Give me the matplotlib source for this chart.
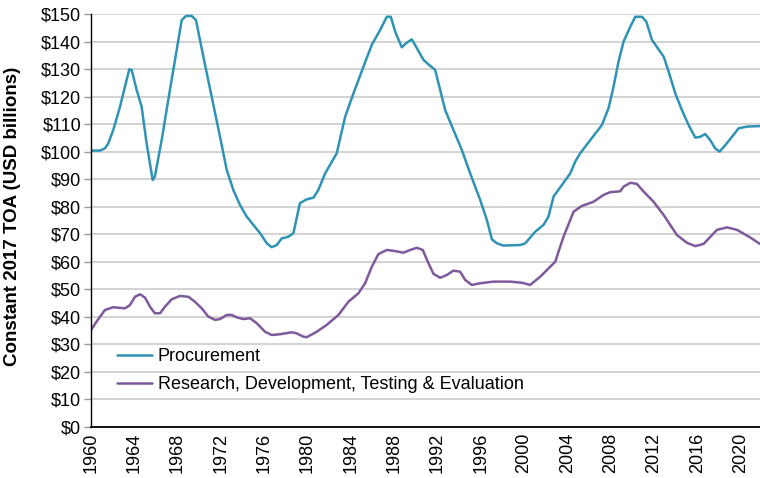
import matplotlib.pyplot as plt
from matplotlib.ticker import FuncFormatter

plt.rcParams['font.family'] = ['Liberation Sans', 'DejaVu Sans']

# Procurement, points (fiscal year, USD billions)
proc_years = [1960.0, 1960.83, 1961.29, 1961.6, 1962.06, 1962.68, 1963.14, 1963.54,
              1963.76, 1964.22, 1964.68, 1965.14, 1965.7, 1965.9, 1966.53, 1967.14,
              1967.76, 1968.38, 1968.78, 1969.3, 1969.7, 1970.38, 1971.15, 1971.92,
              1972.54, 1973.15, 1973.77, 1974.39, 1975.0, 1975.62, 1976.24, 1976.7,
              1977.16, 1977.62, 1978.24, 1978.7, 1979.3, 1979.93, 1980.55, 1981.0,
              1981.63, 1982.7, 1983.48, 1984.25, 1985.17, 1985.94, 1986.71, 1987.33,
              1987.7, 1988.1, 1988.71, 1989.18, 1989.64, 1990.1, 1990.72, 1991.17,
              1991.79, 1992.26, 1992.72, 1993.48, 1994.26, 1995.03, 1995.95, 1996.57,
              1997.03, 1997.5, 1998.1, 1999.65, 2000.11, 2001.03, 2001.8, 2002.26,
              2002.73, 2003.5, 2004.27, 2004.73, 2005.19, 2006.12, 2007.2, 2007.81,
              2008.27, 2008.73, 2009.2, 2009.82, 2010.28, 2010.9, 2011.3, 2011.82,
              2012.9, 2013.36, 2013.97, 2014.59, 2015.2, 2015.82, 2016.28, 2016.74,
              2017.2, 2017.66, 2018.07, 2018.6, 2019.21, 2019.83, 2020.6, 2021.8]
proc_values = [100.4, 100.4, 101.2, 103.0, 107.9, 116.3, 123.6, 129.9,
               129.7, 122.4, 116.3, 103.0, 89.7, 90.9, 104.2, 118.8,
               133.3, 147.8, 149.3, 149.3, 147.8, 134.5, 120.0, 105.4,
               93.4, 86.1, 80.6, 76.4, 73.4, 70.4, 66.7, 65.3,
               66.1, 68.5, 69.1, 70.4, 81.3, 82.7, 83.3, 86.1,
               92.1, 99.4, 112.7, 121.2, 130.9, 138.8, 144.2, 149.0,
               149.0, 143.6, 137.9, 139.6, 140.8, 137.6, 133.3, 131.7,
               129.7, 122.4, 115.1, 107.9, 100.6, 92.1, 82.5, 75.2,
               68.2, 66.7, 65.9, 66.1, 66.7, 70.9, 73.4, 76.4,
               83.7, 87.9, 92.1, 96.4, 99.4, 104.2, 109.7, 115.8,
               123.6, 132.7, 140.0, 145.4, 149.0, 149.0, 147.2, 140.6,
               134.5, 129.1, 121.2, 115.1, 109.7, 105.1, 105.4, 106.4,
               104.2, 101.2, 100.0, 102.4, 105.4, 108.5, 109.1, 109.3]

# Research, Development, Testing & Evaluation
rdte_years = [1960.0, 1960.52, 1961.29, 1962.06, 1963.14, 1963.6, 1964.07, 1964.53,
              1964.99, 1965.45, 1965.9, 1966.38, 1966.84, 1967.46, 1968.23, 1969.0,
              1969.6, 1970.23, 1970.84, 1971.46, 1971.92, 1972.54, 1973.0, 1973.47,
              1974.08, 1974.7, 1975.31, 1976.08, 1976.7, 1977.47, 1978.55, 1979.01,
              1979.62, 1979.93, 1980.86, 1981.78, 1982.86, 1983.78, 1984.71, 1985.32,
              1985.94, 1986.55, 1987.33, 1988.1, 1988.86, 1989.48, 1990.1, 1990.65,
              1991.17, 1991.64, 1992.26, 1992.87, 1993.48, 1994.1, 1994.57, 1995.18,
              1995.95, 1997.18, 1998.72, 1999.8, 2000.57, 2001.5, 2002.88, 2003.65,
              2004.58, 2005.35, 2006.42, 2007.35, 2007.97, 2008.89, 2009.2, 2009.82,
              2010.43, 2011.05, 2011.97, 2012.9, 2014.13, 2015.06, 2015.83, 2016.59,
              2017.82, 2018.75, 2019.68, 2020.91, 2021.83]
rdte_values = [35.2, 38.3, 42.5, 43.5, 43.1, 44.3, 47.3, 48.2,
               47.0, 43.7, 41.3, 41.3, 43.7, 46.4, 47.6, 47.3,
               45.5, 43.1, 40.1, 38.9, 39.2, 40.7, 40.7, 39.8,
               39.2, 39.5, 37.7, 34.6, 33.4, 33.7, 34.4, 34.0,
               32.8, 32.6, 34.6, 37.1, 40.7, 45.5, 48.6, 52.2,
               58.2, 62.8, 64.3, 63.9, 63.3, 64.3, 65.1, 64.3,
               59.5, 55.6, 54.2, 55.2, 56.8, 56.4, 53.4, 51.6,
               52.2, 52.8, 52.8, 52.4, 51.6, 54.6, 60.0, 69.1,
               78.2, 80.3, 81.8, 84.3, 85.3, 85.6, 87.3, 88.7,
               88.3, 85.5, 81.8, 77.0, 69.7, 66.9, 65.7, 66.5,
               71.6, 72.5, 71.6, 68.8, 66.4]

year_ticks = list(range(1960, 2021, 4))

fig = plt.figure(figsize=(7.6, 4.78), dpi=100)
ax = fig.add_axes([0.1197, 0.1067, 0.8803, 0.864])

ax.plot(proc_years, proc_values, color='#2f93b5', lw=1.8,
        solid_joinstyle='round', solid_capstyle='round', label='Procurement')
ax.plot(rdte_years, rdte_values, color='#7c5a9c', lw=1.8,
        solid_joinstyle='round', solid_capstyle='round',
        label='Research, Development, Testing & Evaluation')

ax.set_xlim(1960, 2021.8)
ax.set_ylim(0, 150)
ax.set_yticks(range(0, 151, 10))
ax.yaxis.set_major_formatter(FuncFormatter(lambda v, p: f'${v:.0f}'))
ax.set_xticks(year_ticks)
ax.set_xticklabels([str(y) for y in year_ticks], rotation=90)
ax.tick_params(axis='x', length=0, pad=4, labelsize=13)
ax.tick_params(axis='y', length=5, width=1, color='#999999', pad=2, labelsize=13)

ax.grid(axis='y', color='#cccccc', lw=1.2)
ax.set_axisbelow(True)
for s in ['top', 'right']:
    ax.spines[s].set_visible(False)
ax.spines['left'].set_color('black')
ax.spines['left'].set_linewidth(1)
ax.spines['bottom'].set_color('black')
ax.spines['bottom'].set_linewidth(1.3)

ax.set_ylabel('Constant 2017 TOA (USD billions)', fontsize=13.5, fontweight='bold')
ax.yaxis.set_label_coords(-0.105, 0.51)

ax.legend(loc='lower left', bbox_to_anchor=(0.015, 0.043), frameon=False,
          fontsize=13, handlelength=1.95, labelspacing=0.6, handletextpad=0.3)

fig.savefig('out.png', dpi=100)
